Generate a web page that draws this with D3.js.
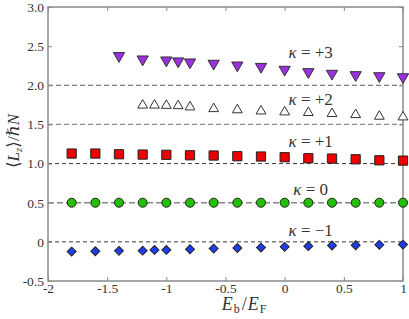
<!DOCTYPE html>
<html>
<head>
<meta charset="utf-8">
<script src="https://cdn.jsdelivr.net/npm/d3@7"></script>
<style>
  body { margin: 0; background: #fff; }
  svg { display: block; }
  svg text { font-family: 'Liberation Serif', 'Times New Roman', 'DejaVu Serif', serif; }
</style>
</head>
<body>
<svg width="409" height="319"></svg>
<script>
// data
var xK3 = [-1.4, -1.2, -1.0, -0.9, -0.8, -0.6, -0.4, -0.2, 0, 0.2, 0.4, 0.6, 0.8, 1.0];
var yK3 = [2.376, 2.333, 2.32, 2.308, 2.295, 2.278, 2.256, 2.238, 2.201, 2.171, 2.15, 2.132, 2.119, 2.106];

var xK2 = [-1.2, -1.1, -1.0, -0.9, -0.8, -0.6, -0.4, -0.2, 0, 0.2, 0.4, 0.6, 0.8, 1.0];
var yK2 = [1.745, 1.745, 1.742, 1.738, 1.722, 1.70, 1.685, 1.67, 1.658, 1.65, 1.637, 1.624, 1.603, 1.594];

var xK1 = [-1.8, -1.6, -1.4, -1.2, -1.0, -0.8, -0.6, -0.4, -0.2, 0, 0.2, 0.4, 0.6, 0.8, 1.0];
var yK1 = [1.128, 1.128, 1.119, 1.115, 1.112, 1.106, 1.103, 1.094, 1.09, 1.081, 1.068, 1.064, 1.055, 1.042, 1.038];

var xK0 = [-1.8, -1.6, -1.4, -1.2, -1.0, -0.8, -0.6, -0.4, -0.2, 0, 0.2, 0.4, 0.6, 0.8, 1.0];
var yK0 = [0.5, 0.5, 0.5, 0.5, 0.5, 0.5, 0.5, 0.5, 0.5, 0.5, 0.5, 0.5, 0.5, 0.5, 0.5];

var xKm1 = [-1.8, -1.6, -1.4, -1.2, -1.1, -1.0, -0.8, -0.6, -0.4, -0.2, 0, 0.2, 0.4, 0.6, 0.8, 1.0];
var yKm1 = [-0.124, -0.12, -0.115, -0.112, -0.103, -0.103, -0.094, -0.086, -0.079, -0.073, -0.064, -0.055, -0.047, -0.043, -0.038, -0.035];

// reference levels (dashed lines) and their labels
var levels = [2.0, 1.5, 1.0, 0.5, 0];
var labelText = ["+3", "+2", "+1", "0", "\u22121"];
var labelX = [0.22, 0.22, 0.22, 0.22, 0.22];
var labelY = [2.35, 1.745, 1.21, 0.6, 0.08];

var xTicks = [-2, -1.5, -1, -0.5, 0, 0.5, 1];
var yTicks = [-0.5, 0, 0.5, 1.0, 1.5, 2.0, 2.5, 3.0];
var yTickLabels = ["-0.5", "0", "0.5", "1.0", "1.5", "2.0", "2.5", "3.0"];
var xTickLabels = ["-2", "-1.5", "-1", "-0.5", "0", "0.5", "1"];

//==========================================================================
// Layout

var margin = { top: 7, right: 6, bottom: 38, left: 48 };
var width = 409 - margin.left - margin.right;
var height = 319 - margin.top - margin.bottom;

var svg = d3.select("svg");
var chart = svg.append("g")
    .attr("transform", "translate(" + margin.left + "," + margin.top + ")");

var x = d3.scaleLinear().domain([-2, 1]).range([0, width]);
var y = d3.scaleLinear().domain([-0.5, 3.0]).range([height, 0]);

var axisColor = "#8a8a8a";
var textColor = "#333";
var serif = "'Liberation Serif', 'Times New Roman', serif";

// dashed reference lines
var lineStyles = [
    { stroke: "#555", dash: "5,3", w: 1.1 },
    { stroke: "#888", dash: "5,3", w: 1.2 },
    { stroke: "#222", dash: "4,3", w: 0.9 },
    { stroke: "#888", dash: "6,3", w: 1.4 },
    { stroke: "#222", dash: "4,3", w: 0.9 }
];

chart.selectAll(".level")
    .data(levels)
    .enter()
    .append("line")
    .attr("class", "level")
    .attr("x1", 0)
    .attr("x2", width)
    .attr("y1", function(d) { return y(d); })
    .attr("y2", function(d) { return y(d); })
    .attr("stroke", function(d, i) { return lineStyles[i].stroke; })
    .attr("stroke-width", function(d, i) { return lineStyles[i].w; })
    .attr("stroke-dasharray", function(d, i) { return lineStyles[i].dash; });

// axes (box with inward ticks)
function styleAxis(g) {
    g.attr("font-family", serif);
    g.select(".domain").remove();
    g.selectAll(".tick line").attr("stroke", axisColor).attr("stroke-width", 1);
    g.selectAll(".tick text")
        .attr("fill", textColor)
        .attr("font-size", 13.5);
}

chart.append("g")
    .attr("transform", "translate(0," + height + ")")
    .call(d3.axisBottom(x).tickValues(xTicks).tickSizeInner(-4).tickSizeOuter(0)
        .tickPadding(2).tickFormat(function(d, i) { return xTickLabels[i]; }))
    .call(styleAxis);

chart.append("g")
    .call(d3.axisTop(x).tickValues(xTicks).tickSizeInner(-4).tickSizeOuter(0)
        .tickFormat(""))
    .call(styleAxis);

chart.append("g")
    .call(d3.axisLeft(y).tickValues(yTicks).tickSizeInner(-4).tickSizeOuter(0)
        .tickPadding(4).tickFormat(function(d, i) { return yTickLabels[i]; }))
    .call(styleAxis);

chart.append("g")
    .attr("transform", "translate(" + width + ",0)")
    .call(d3.axisRight(y).tickValues(yTicks).tickSizeInner(-4).tickSizeOuter(0)
        .tickFormat(""))
    .call(styleAxis);

chart.append("rect")
    .attr("x", 0).attr("y", 0)
    .attr("width", width).attr("height", height)
    .attr("fill", "none")
    .attr("stroke", axisColor)
    .attr("stroke-width", 1.5);

//==========================================================================
// Markers

var series = [
    { xs: xK3, ys: yK3, type: d3.symbolTriangle, size: 55, rot: 180, fill: "#9b30e0", stroke: "#333" },
    { xs: xK2, ys: yK2, type: d3.symbolTriangle, size: 42, rot: 0, fill: "#fff", stroke: "#333" },
    { xs: xK1, ys: yK1, type: d3.symbolSquare, size: 85, rot: 0, fill: "#ee0000", stroke: "#222" },
    { xs: xK0, ys: yK0, type: d3.symbolCircle, size: 64, rot: 0, fill: "#22c000", stroke: "#222" },
    { xs: xKm1, ys: yKm1, type: d3.symbolSquare, size: 40, rot: 45, fill: "#1e3cf0", stroke: "#222" }
];

series.forEach(function(s) {
    var pts = s.xs.map(function(xv, i) { return [xv, s.ys[i]]; });
    chart.append("g")
        .selectAll("path")
        .data(pts)
        .enter()
        .append("path")
        .attr("d", d3.symbol().type(s.type).size(s.size))
        .attr("transform", function(d) {
            return "translate(" + x(d[0]) + "," + y(d[1]) + ") rotate(" + s.rot + ")";
        })
        .attr("fill", s.fill)
        .attr("stroke", s.stroke)
        .attr("stroke-width", 1);
});

// kappa labels
var labels = chart.selectAll(".klabel")
    .data(labelText)
    .enter()
    .append("text")
    .attr("class", "klabel")
    .attr("x", function(d, i) { return x(labelX[i]); })
    .attr("y", function(d, i) { return y(labelY[i]); })
    .attr("text-anchor", "middle")
    .attr("font-family", serif)
    .attr("font-size", 17)
    .attr("fill", textColor);
labels.append("tspan").attr("font-style", "italic").text("\u03ba");
labels.append("tspan").text(function(d) { return " = " + d; });

//==========================================================================
// Axis titles

var xt = svg.append("text")
    .attr("x", 244)
    .attr("y", 310)
    .attr("text-anchor", "middle")
    .attr("font-family", serif)
    .attr("font-size", 18)
    .attr("fill", textColor);
xt.append("tspan").attr("font-style", "italic").text("E");
xt.append("tspan").attr("font-size", 12).attr("dx", 1).attr("baseline-shift", "-3").text("b");
xt.append("tspan").attr("dx", 2).text("/");
xt.append("tspan").attr("dx", 1).attr("font-style", "italic").text("E");
xt.append("tspan").attr("font-size", 12).attr("dx", 1).attr("baseline-shift", "-3").text("F");

var yt = svg.append("text")
    .attr("transform", "translate(19,141) rotate(-90)")
    .attr("text-anchor", "middle")
    .attr("font-family", serif)
    .attr("font-size", 17)
    .attr("fill", textColor);
yt.append("tspan").text("\u27e8");
yt.append("tspan").attr("font-style", "italic").text("L");
yt.append("tspan").attr("font-style", "italic").attr("font-size", 11).attr("baseline-shift", "-3").text("z");
yt.append("tspan").text("\u27e9/");
yt.append("tspan").attr("font-style", "italic").text("\u210fN");
</script>
</body>
</html>
